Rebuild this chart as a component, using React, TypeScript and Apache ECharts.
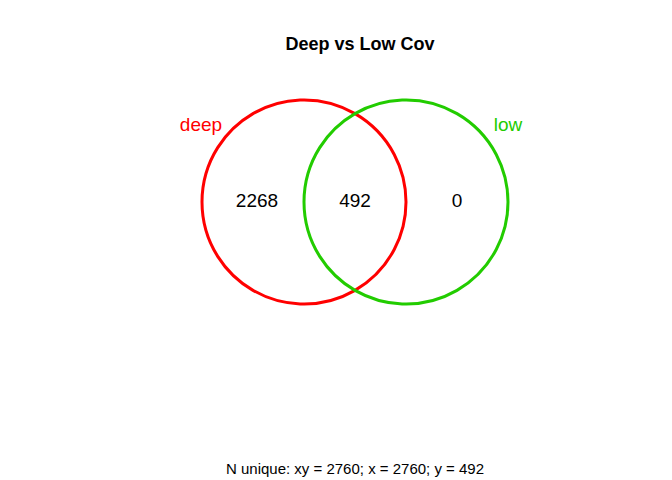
import { useEffect, useRef } from 'react'
import * as echarts from 'echarts'

// set names, colours and region counts
const setNames = ['deep', 'low']
const setColors = ['#ff0000', '#22cc00']
// circle layout in chart units: [cx, cy, r]
const circles = [[304, 202, 102], [406, 202, 102]]
const nameSpots = [[201, 124], [508, 124]]
const regionCounts = [2268, 492, 0]
const regionSpots = [[257, 200], [355, 200], [457, 200]]
const titleText = 'Deep vs Low Cov'
const footerText = 'N unique: xy = 2760; x = 2760; y = 492'

const FONT = 'Liberation Sans, Arial, sans-serif'

export default function App() {
  const ref = useRef<HTMLDivElement | null>(null)
  useEffect(() => {
    document.body.style.margin = '0'
    if (!ref.current) return
    const chart = echarts.init(ref.current, null, { renderer: 'svg' })
    const lbl = (text: string, color: string) => ({
      show: true, position: 'inside', formatter: text, color, opacity: 1, fontSize: 19, fontFamily: FONT,
    })
    chart.setOption({
      animation: false,
      backgroundColor: '#ffffff',
      title: {
        text: titleText, left: 355, top: 30, textAlign: 'center',
        textStyle: { fontFamily: FONT, fontSize: 18, fontWeight: 'bold', color: '#000' },
      },
      graphic: [{
        type: 'text', x: 355, y: 468,
        style: { text: footerText, fontFamily: FONT, fontSize: 15, fill: '#000', align: 'center', verticalAlign: 'middle' },
      }],
      grid: { left: 0, right: 0, top: 0, bottom: 0 },
      xAxis: { type: 'value', min: 0, max: 672, show: false },
      yAxis: { type: 'value', min: 0, max: 480, inverse: true, show: false },
      series: [
        {
          type: 'custom',
          data: circles.map((c, i) => [...c, i]),
          renderItem: (_p: any, api: any) => {
            const [x, y] = api.coord([api.value(0), api.value(1)])
            const r = api.size([api.value(2), 0])[0]
            return {
              type: 'circle', shape: { cx: x, cy: y, r },
              style: { fill: 'none', stroke: setColors[api.value(3)], lineWidth: 3 },
            }
          },
        },
        {
          type: 'scatter', symbolSize: 0, itemStyle: { opacity: 1 },
          data: nameSpots.map((p, i) => ({ value: p, label: lbl(setNames[i], setColors[i]) })),
        },
        {
          type: 'scatter', symbolSize: 0, itemStyle: { opacity: 1 },
          data: regionSpots.map((p, i) => ({ value: p, label: lbl(String(regionCounts[i]), '#000') })),
        },
      ],
    })
    return () => chart.dispose()
  }, [])
  return <div ref={ref} style={{ width: 672, height: 480 }} />
}
